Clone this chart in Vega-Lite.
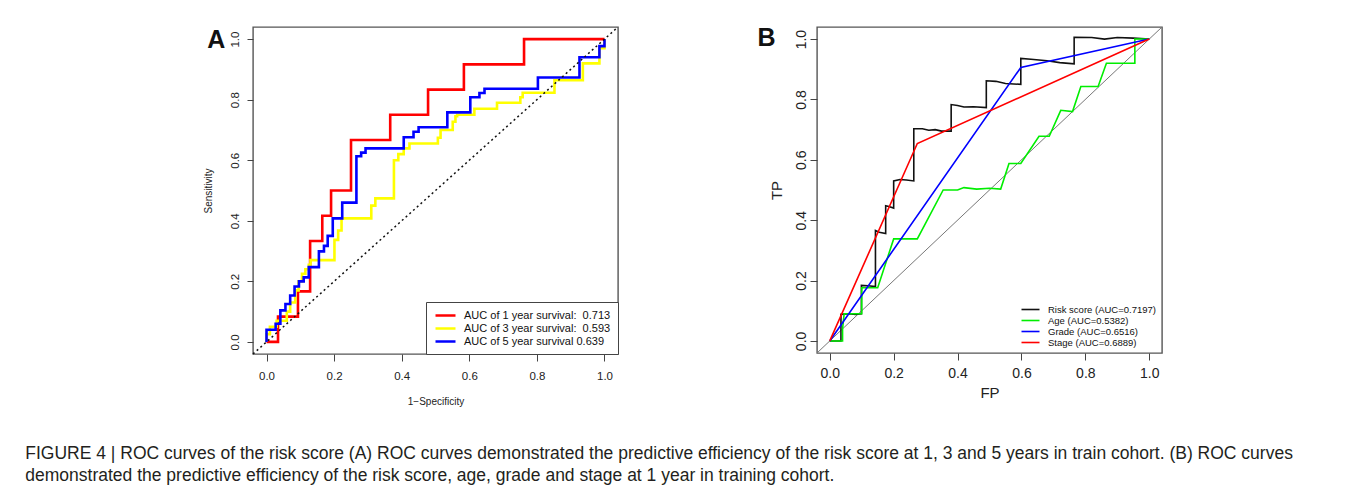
{
  "$schema": "https://vega.github.io/schema/vega-lite/v6.json",
  "background": "white",
  "padding": {"left": 25, "top": 23, "right": 5, "bottom": 5},
  "spacing": 134,
  "resolve": {"scale": {"color": "independent"}, "legend": {"color": "independent"}},
  "title": {
    "text": ["FIGURE 4 | ROC curves of the risk score (A) ROC curves demonstrated the predictive efficiency of the risk score at 1, 3 and 5 years in train cohort. (B) ROC curves", "demonstrated the predictive efficiency of the risk score, age, grade and stage at 1 year in training cohort."],
    "orient": "bottom", "anchor": "start", "frame": "bounds",
    "fontSize": 17.5, "fontWeight": "normal", "font": "Liberation Sans", "color": "#231f20",
    "lineHeight": 21.5, "offset": 38, "dx": -177
  },
  "config": {
    "font": "Liberation Sans",
    "view": {"stroke": "#555", "strokeWidth": 1.4}
  },
  "hconcat": [
    {
      "width": 365, "height": 327,
      "layer": [
        {
          "data": {"values": [
            {"c":"AUC of 1 year survival: \u00a00.713","i":0,"fp":0,"tp":0},
            {"c":"AUC of 1 year survival: \u00a00.713","i":1,"fp":0.034,"tp":0},
            {"c":"AUC of 1 year survival: \u00a00.713","i":2,"fp":0.034,"tp":0.0833},
            {"c":"AUC of 1 year survival: \u00a00.713","i":3,"fp":0.093,"tp":0.0833},
            {"c":"AUC of 1 year survival: \u00a00.713","i":4,"fp":0.093,"tp":0.1667},
            {"c":"AUC of 1 year survival: \u00a00.713","i":5,"fp":0.129,"tp":0.1667},
            {"c":"AUC of 1 year survival: \u00a00.713","i":6,"fp":0.129,"tp":0.3333},
            {"c":"AUC of 1 year survival: \u00a00.713","i":7,"fp":0.165,"tp":0.3333},
            {"c":"AUC of 1 year survival: \u00a00.713","i":8,"fp":0.165,"tp":0.4167},
            {"c":"AUC of 1 year survival: \u00a00.713","i":9,"fp":0.191,"tp":0.4167},
            {"c":"AUC of 1 year survival: \u00a00.713","i":10,"fp":0.191,"tp":0.5},
            {"c":"AUC of 1 year survival: \u00a00.713","i":11,"fp":0.25,"tp":0.5},
            {"c":"AUC of 1 year survival: \u00a00.713","i":12,"fp":0.25,"tp":0.6667},
            {"c":"AUC of 1 year survival: \u00a00.713","i":13,"fp":0.366,"tp":0.6667},
            {"c":"AUC of 1 year survival: \u00a00.713","i":14,"fp":0.366,"tp":0.75},
            {"c":"AUC of 1 year survival: \u00a00.713","i":15,"fp":0.478,"tp":0.75},
            {"c":"AUC of 1 year survival: \u00a00.713","i":16,"fp":0.478,"tp":0.8333},
            {"c":"AUC of 1 year survival: \u00a00.713","i":17,"fp":0.584,"tp":0.8333},
            {"c":"AUC of 1 year survival: \u00a00.713","i":18,"fp":0.584,"tp":0.9167},
            {"c":"AUC of 1 year survival: \u00a00.713","i":19,"fp":0.762,"tp":0.9167},
            {"c":"AUC of 1 year survival: \u00a00.713","i":20,"fp":0.762,"tp":1},
            {"c":"AUC of 1 year survival: \u00a00.713","i":21,"fp":1,"tp":1},

            {"c":"AUC of 3 year survival: \u00a00.593","i":0,"fp":0,"tp":0},
            {"c":"AUC of 3 year survival: \u00a00.593","i":1,"fp":0,"tp":0.025},
            {"c":"AUC of 3 year survival: \u00a00.593","i":2,"fp":0.01,"tp":0.025},
            {"c":"AUC of 3 year survival: \u00a00.593","i":3,"fp":0.01,"tp":0.05},
            {"c":"AUC of 3 year survival: \u00a00.593","i":4,"fp":0.03,"tp":0.05},
            {"c":"AUC of 3 year survival: \u00a00.593","i":5,"fp":0.03,"tp":0.07},
            {"c":"AUC of 3 year survival: \u00a00.593","i":6,"fp":0.06,"tp":0.07},
            {"c":"AUC of 3 year survival: \u00a00.593","i":7,"fp":0.06,"tp":0.1},
            {"c":"AUC of 3 year survival: \u00a00.593","i":8,"fp":0.07,"tp":0.1},
            {"c":"AUC of 3 year survival: \u00a00.593","i":9,"fp":0.07,"tp":0.13},
            {"c":"AUC of 3 year survival: \u00a00.593","i":10,"fp":0.085,"tp":0.13},
            {"c":"AUC of 3 year survival: \u00a00.593","i":11,"fp":0.085,"tp":0.17},
            {"c":"AUC of 3 year survival: \u00a00.593","i":12,"fp":0.095,"tp":0.17},
            {"c":"AUC of 3 year survival: \u00a00.593","i":13,"fp":0.095,"tp":0.2},
            {"c":"AUC of 3 year survival: \u00a00.593","i":14,"fp":0.105,"tp":0.2},
            {"c":"AUC of 3 year survival: \u00a00.593","i":15,"fp":0.105,"tp":0.225},
            {"c":"AUC of 3 year survival: \u00a00.593","i":16,"fp":0.115,"tp":0.225},
            {"c":"AUC of 3 year survival: \u00a00.593","i":17,"fp":0.115,"tp":0.24},
            {"c":"AUC of 3 year survival: \u00a00.593","i":18,"fp":0.125,"tp":0.24},
            {"c":"AUC of 3 year survival: \u00a00.593","i":19,"fp":0.125,"tp":0.255},
            {"c":"AUC of 3 year survival: \u00a00.593","i":20,"fp":0.13,"tp":0.255},
            {"c":"AUC of 3 year survival: \u00a00.593","i":21,"fp":0.13,"tp":0.27},
            {"c":"AUC of 3 year survival: \u00a00.593","i":22,"fp":0.201,"tp":0.27},
            {"c":"AUC of 3 year survival: \u00a00.593","i":23,"fp":0.201,"tp":0.337},
            {"c":"AUC of 3 year survival: \u00a00.593","i":24,"fp":0.212,"tp":0.337},
            {"c":"AUC of 3 year survival: \u00a00.593","i":25,"fp":0.212,"tp":0.368},
            {"c":"AUC of 3 year survival: \u00a00.593","i":26,"fp":0.222,"tp":0.368},
            {"c":"AUC of 3 year survival: \u00a00.593","i":27,"fp":0.222,"tp":0.408},
            {"c":"AUC of 3 year survival: \u00a00.593","i":28,"fp":0.31,"tp":0.408},
            {"c":"AUC of 3 year survival: \u00a00.593","i":29,"fp":0.31,"tp":0.45},
            {"c":"AUC of 3 year survival: \u00a00.593","i":30,"fp":0.322,"tp":0.45},
            {"c":"AUC of 3 year survival: \u00a00.593","i":31,"fp":0.322,"tp":0.474},
            {"c":"AUC of 3 year survival: \u00a00.593","i":32,"fp":0.377,"tp":0.474},
            {"c":"AUC of 3 year survival: \u00a00.593","i":33,"fp":0.377,"tp":0.6},
            {"c":"AUC of 3 year survival: \u00a00.593","i":34,"fp":0.39,"tp":0.6},
            {"c":"AUC of 3 year survival: \u00a00.593","i":35,"fp":0.39,"tp":0.62},
            {"c":"AUC of 3 year survival: \u00a00.593","i":36,"fp":0.406,"tp":0.62},
            {"c":"AUC of 3 year survival: \u00a00.593","i":37,"fp":0.406,"tp":0.639},
            {"c":"AUC of 3 year survival: \u00a00.593","i":38,"fp":0.423,"tp":0.639},
            {"c":"AUC of 3 year survival: \u00a00.593","i":39,"fp":0.423,"tp":0.655},
            {"c":"AUC of 3 year survival: \u00a00.593","i":40,"fp":0.507,"tp":0.655},
            {"c":"AUC of 3 year survival: \u00a00.593","i":41,"fp":0.507,"tp":0.674},
            {"c":"AUC of 3 year survival: \u00a00.593","i":42,"fp":0.515,"tp":0.674},
            {"c":"AUC of 3 year survival: \u00a00.593","i":43,"fp":0.515,"tp":0.7},
            {"c":"AUC of 3 year survival: \u00a00.593","i":44,"fp":0.551,"tp":0.7},
            {"c":"AUC of 3 year survival: \u00a00.593","i":45,"fp":0.551,"tp":0.727},
            {"c":"AUC of 3 year survival: \u00a00.593","i":46,"fp":0.559,"tp":0.727},
            {"c":"AUC of 3 year survival: \u00a00.593","i":47,"fp":0.559,"tp":0.745},
            {"c":"AUC of 3 year survival: \u00a00.593","i":48,"fp":0.564,"tp":0.745},
            {"c":"AUC of 3 year survival: \u00a00.593","i":49,"fp":0.564,"tp":0.75},
            {"c":"AUC of 3 year survival: \u00a00.593","i":50,"fp":0.615,"tp":0.75},
            {"c":"AUC of 3 year survival: \u00a00.593","i":51,"fp":0.615,"tp":0.77},
            {"c":"AUC of 3 year survival: \u00a00.593","i":52,"fp":0.682,"tp":0.77},
            {"c":"AUC of 3 year survival: \u00a00.593","i":53,"fp":0.682,"tp":0.79},
            {"c":"AUC of 3 year survival: \u00a00.593","i":54,"fp":0.751,"tp":0.79},
            {"c":"AUC of 3 year survival: \u00a00.593","i":55,"fp":0.751,"tp":0.808},
            {"c":"AUC of 3 year survival: \u00a00.593","i":56,"fp":0.758,"tp":0.808},
            {"c":"AUC of 3 year survival: \u00a00.593","i":57,"fp":0.758,"tp":0.823},
            {"c":"AUC of 3 year survival: \u00a00.593","i":58,"fp":0.852,"tp":0.823},
            {"c":"AUC of 3 year survival: \u00a00.593","i":59,"fp":0.852,"tp":0.864},
            {"c":"AUC of 3 year survival: \u00a00.593","i":60,"fp":0.936,"tp":0.864},
            {"c":"AUC of 3 year survival: \u00a00.593","i":61,"fp":0.936,"tp":0.92},
            {"c":"AUC of 3 year survival: \u00a00.593","i":62,"fp":0.985,"tp":0.92},
            {"c":"AUC of 3 year survival: \u00a00.593","i":63,"fp":0.985,"tp":0.97},
            {"c":"AUC of 3 year survival: \u00a00.593","i":64,"fp":1,"tp":0.97},
            {"c":"AUC of 3 year survival: \u00a00.593","i":65,"fp":1,"tp":1},

            {"c":"AUC of 5 year survival 0.639","i":0,"fp":0,"tp":0},
            {"c":"AUC of 5 year survival 0.639","i":1,"fp":0,"tp":0.04},
            {"c":"AUC of 5 year survival 0.639","i":2,"fp":0.027,"tp":0.04},
            {"c":"AUC of 5 year survival 0.639","i":3,"fp":0.027,"tp":0.06},
            {"c":"AUC of 5 year survival 0.639","i":4,"fp":0.041,"tp":0.06},
            {"c":"AUC of 5 year survival 0.639","i":5,"fp":0.041,"tp":0.104},
            {"c":"AUC of 5 year survival 0.639","i":6,"fp":0.056,"tp":0.104},
            {"c":"AUC of 5 year survival 0.639","i":7,"fp":0.056,"tp":0.125},
            {"c":"AUC of 5 year survival 0.639","i":8,"fp":0.07,"tp":0.125},
            {"c":"AUC of 5 year survival 0.639","i":9,"fp":0.07,"tp":0.153},
            {"c":"AUC of 5 year survival 0.639","i":10,"fp":0.083,"tp":0.153},
            {"c":"AUC of 5 year survival 0.639","i":11,"fp":0.083,"tp":0.183},
            {"c":"AUC of 5 year survival 0.639","i":12,"fp":0.096,"tp":0.183},
            {"c":"AUC of 5 year survival 0.639","i":13,"fp":0.096,"tp":0.2},
            {"c":"AUC of 5 year survival 0.639","i":14,"fp":0.11,"tp":0.2},
            {"c":"AUC of 5 year survival 0.639","i":15,"fp":0.11,"tp":0.213},
            {"c":"AUC of 5 year survival 0.639","i":16,"fp":0.125,"tp":0.213},
            {"c":"AUC of 5 year survival 0.639","i":17,"fp":0.125,"tp":0.247},
            {"c":"AUC of 5 year survival 0.639","i":18,"fp":0.155,"tp":0.247},
            {"c":"AUC of 5 year survival 0.639","i":19,"fp":0.155,"tp":0.299},
            {"c":"AUC of 5 year survival 0.639","i":20,"fp":0.17,"tp":0.299},
            {"c":"AUC of 5 year survival 0.639","i":21,"fp":0.17,"tp":0.317},
            {"c":"AUC of 5 year survival 0.639","i":22,"fp":0.181,"tp":0.317},
            {"c":"AUC of 5 year survival 0.639","i":23,"fp":0.181,"tp":0.35},
            {"c":"AUC of 5 year survival 0.639","i":24,"fp":0.196,"tp":0.35},
            {"c":"AUC of 5 year survival 0.639","i":25,"fp":0.196,"tp":0.408},
            {"c":"AUC of 5 year survival 0.639","i":26,"fp":0.224,"tp":0.408},
            {"c":"AUC of 5 year survival 0.639","i":27,"fp":0.224,"tp":0.46},
            {"c":"AUC of 5 year survival 0.639","i":28,"fp":0.266,"tp":0.46},
            {"c":"AUC of 5 year survival 0.639","i":29,"fp":0.266,"tp":0.613},
            {"c":"AUC of 5 year survival 0.639","i":30,"fp":0.28,"tp":0.613},
            {"c":"AUC of 5 year survival 0.639","i":31,"fp":0.28,"tp":0.625},
            {"c":"AUC of 5 year survival 0.639","i":32,"fp":0.293,"tp":0.625},
            {"c":"AUC of 5 year survival 0.639","i":33,"fp":0.293,"tp":0.639},
            {"c":"AUC of 5 year survival 0.639","i":34,"fp":0.406,"tp":0.639},
            {"c":"AUC of 5 year survival 0.639","i":35,"fp":0.406,"tp":0.676},
            {"c":"AUC of 5 year survival 0.639","i":36,"fp":0.435,"tp":0.676},
            {"c":"AUC of 5 year survival 0.639","i":37,"fp":0.435,"tp":0.694},
            {"c":"AUC of 5 year survival 0.639","i":38,"fp":0.45,"tp":0.694},
            {"c":"AUC of 5 year survival 0.639","i":39,"fp":0.45,"tp":0.709},
            {"c":"AUC of 5 year survival 0.639","i":40,"fp":0.535,"tp":0.709},
            {"c":"AUC of 5 year survival 0.639","i":41,"fp":0.535,"tp":0.758},
            {"c":"AUC of 5 year survival 0.639","i":42,"fp":0.603,"tp":0.758},
            {"c":"AUC of 5 year survival 0.639","i":43,"fp":0.603,"tp":0.808},
            {"c":"AUC of 5 year survival 0.639","i":44,"fp":0.63,"tp":0.808},
            {"c":"AUC of 5 year survival 0.639","i":45,"fp":0.63,"tp":0.822},
            {"c":"AUC of 5 year survival 0.639","i":46,"fp":0.645,"tp":0.822},
            {"c":"AUC of 5 year survival 0.639","i":47,"fp":0.645,"tp":0.836},
            {"c":"AUC of 5 year survival 0.639","i":48,"fp":0.803,"tp":0.836},
            {"c":"AUC of 5 year survival 0.639","i":49,"fp":0.803,"tp":0.873},
            {"c":"AUC of 5 year survival 0.639","i":50,"fp":0.926,"tp":0.873},
            {"c":"AUC of 5 year survival 0.639","i":51,"fp":0.926,"tp":0.94},
            {"c":"AUC of 5 year survival 0.639","i":52,"fp":0.985,"tp":0.94},
            {"c":"AUC of 5 year survival 0.639","i":53,"fp":0.985,"tp":0.977},
            {"c":"AUC of 5 year survival 0.639","i":54,"fp":1,"tp":0.977},
            {"c":"AUC of 5 year survival 0.639","i":55,"fp":1,"tp":1}
          ]},
          "mark": {"type": "line", "strokeWidth": 2.6},
          "encoding": {
            "x": {"field": "fp", "type": "quantitative", "title": "1−Specificity",
              "scale": {"domain": [-0.04, 1.04], "nice": false, "zero": false},
              "axis": {"values": [0, 0.2, 0.4, 0.6, 0.8, 1], "format": ".1f", "domain": false, "grid": false,
                "tickSize": 7, "tickColor": "#444", "labelFontSize": 11.5, "labelColor": "#222", "labelPadding": 9,
                "labelFlush": false, "titleFontSize": 10, "titleFontWeight": "normal", "titleColor": "#222", "titlePadding": 15}},
            "y": {"field": "tp", "type": "quantitative", "title": "Sensitivity",
              "scale": {"domain": [-0.04, 1.04], "nice": false, "zero": false},
              "axis": {"values": [0, 0.2, 0.4, 0.6, 0.8, 1], "format": ".1f", "domain": false, "grid": false,
                "tickSize": 6, "tickColor": "#444", "labelFontSize": 11.5, "labelColor": "#222", "labelPadding": 7,
                "labelAngle": 270, "labelAlign": "center", "labelBaseline": "bottom", "labelFlush": false,
                "titleFontSize": 10, "titleFontWeight": "normal", "titleColor": "#222", "titlePadding": 16}},
            "order": {"field": "i", "type": "quantitative"},
            "color": {"field": "c", "type": "nominal",
              "scale": {"domain": ["AUC of 1 year survival: \u00a00.713", "AUC of 3 year survival: \u00a00.593", "AUC of 5 year survival 0.639"],
                        "range": ["#ff0000", "#ffff00", "#0000ff"]},
              "legend": {"title": null, "orient": "bottom-right", "offset": 0, "strokeColor": "#444", "fillColor": "white",
                "padding": 7, "symbolType": "M-2,0H2", "symbolSize": 100, "symbolStrokeWidth": 2.5,
                "labelFontSize": 11, "labelColor": "#111", "rowPadding": 1, "labelOffset": 12, "labelLimit": 400, "cornerRadius": 0, "symbolOffset": 6}}
          }
        },
        {
          "data": {"values": [{"fp": -0.04, "tp": -0.04}, {"fp": 1.04, "tp": 1.04}]},
          "mark": {"type": "line", "color": "#111", "strokeWidth": 1.5, "strokeDash": [2, 3]},
          "encoding": {
            "x": {"field": "fp", "type": "quantitative", "title": "1−Specificity"},
            "y": {"field": "tp", "type": "quantitative", "title": "Sensitivity"}
          }
        },
        {
          "data": {"values": [{"fp": -0.149, "tp": 0.997, "t": "A"}]},
          "mark": {"type": "text", "fontSize": 25, "fontWeight": "bold", "align": "center", "baseline": "middle", "color": "#111"},
          "encoding": {
            "x": {"field": "fp", "type": "quantitative", "title": "1−Specificity"},
            "y": {"field": "tp", "type": "quantitative", "title": "Sensitivity"},
            "text": {"field": "t"}
          }
        }
      ]
    },
    {
      "width": 345, "height": 326,
      "layer": [
        {
          "data": {"values": [{"fp": -0.04, "tp": -0.04}, {"fp": 1.04, "tp": 1.04}]},
          "mark": {"type": "line", "color": "#777", "strokeWidth": 1},
          "encoding": {
            "x": {"field": "fp", "type": "quantitative", "title": "FP",
              "scale": {"domain": [-0.04, 1.04], "nice": false, "zero": false},
              "axis": {"values": [0, 0.2, 0.4, 0.6, 0.8, 1], "format": ".1f", "domain": false, "grid": false,
                "tickSize": 7, "tickColor": "#444", "labelFontSize": 14, "labelColor": "#222", "labelPadding": 6,
                "labelFlush": false, "titleFontSize": 15, "titleFontWeight": "normal", "titleColor": "#222", "titlePadding": 5}},
            "y": {"field": "tp", "type": "quantitative", "title": "TP",
              "scale": {"domain": [-0.04, 1.04], "nice": false, "zero": false},
              "axis": {"values": [0, 0.2, 0.4, 0.6, 0.8, 1], "format": ".1f", "domain": false, "grid": false,
                "tickSize": 7, "tickColor": "#444", "labelFontSize": 14, "labelColor": "#222", "labelPadding": 2,
                "labelAngle": 270, "labelAlign": "center", "labelBaseline": "bottom", "labelFlush": false,
                "titleFontSize": 15, "titleFontWeight": "normal", "titleColor": "#222", "titlePadding": 10}}
          }
        },
        {
          "data": {"values": [
            {"c":"Risk score (AUC=0.7197)","i":0,"fp":0,"tp":0},
            {"c":"Risk score (AUC=0.7197)","i":1,"fp":0.035,"tp":0},
            {"c":"Risk score (AUC=0.7197)","i":2,"fp":0.035,"tp":0.088},
            {"c":"Risk score (AUC=0.7197)","i":3,"fp":0.06,"tp":0.09},
            {"c":"Risk score (AUC=0.7197)","i":4,"fp":0.08,"tp":0.088},
            {"c":"Risk score (AUC=0.7197)","i":5,"fp":0.099,"tp":0.09},
            {"c":"Risk score (AUC=0.7197)","i":6,"fp":0.099,"tp":0.184},
            {"c":"Risk score (AUC=0.7197)","i":7,"fp":0.12,"tp":0.183},
            {"c":"Risk score (AUC=0.7197)","i":8,"fp":0.143,"tp":0.18},
            {"c":"Risk score (AUC=0.7197)","i":9,"fp":0.143,"tp":0.366},
            {"c":"Risk score (AUC=0.7197)","i":10,"fp":0.155,"tp":0.36},
            {"c":"Risk score (AUC=0.7197)","i":11,"fp":0.175,"tp":0.356},
            {"c":"Risk score (AUC=0.7197)","i":12,"fp":0.175,"tp":0.448},
            {"c":"Risk score (AUC=0.7197)","i":13,"fp":0.185,"tp":0.445},
            {"c":"Risk score (AUC=0.7197)","i":14,"fp":0.2,"tp":0.44},
            {"c":"Risk score (AUC=0.7197)","i":15,"fp":0.2,"tp":0.53},
            {"c":"Risk score (AUC=0.7197)","i":16,"fp":0.22,"tp":0.535},
            {"c":"Risk score (AUC=0.7197)","i":17,"fp":0.24,"tp":0.533},
            {"c":"Risk score (AUC=0.7197)","i":18,"fp":0.263,"tp":0.53},
            {"c":"Risk score (AUC=0.7197)","i":19,"fp":0.263,"tp":0.703},
            {"c":"Risk score (AUC=0.7197)","i":20,"fp":0.29,"tp":0.703},
            {"c":"Risk score (AUC=0.7197)","i":21,"fp":0.31,"tp":0.698},
            {"c":"Risk score (AUC=0.7197)","i":22,"fp":0.33,"tp":0.7},
            {"c":"Risk score (AUC=0.7197)","i":23,"fp":0.35,"tp":0.695},
            {"c":"Risk score (AUC=0.7197)","i":24,"fp":0.38,"tp":0.695},
            {"c":"Risk score (AUC=0.7197)","i":25,"fp":0.38,"tp":0.783},
            {"c":"Risk score (AUC=0.7197)","i":26,"fp":0.4,"tp":0.78},
            {"c":"Risk score (AUC=0.7197)","i":27,"fp":0.42,"tp":0.775},
            {"c":"Risk score (AUC=0.7197)","i":28,"fp":0.45,"tp":0.776},
            {"c":"Risk score (AUC=0.7197)","i":29,"fp":0.49,"tp":0.773},
            {"c":"Risk score (AUC=0.7197)","i":30,"fp":0.49,"tp":0.862},
            {"c":"Risk score (AUC=0.7197)","i":31,"fp":0.52,"tp":0.86},
            {"c":"Risk score (AUC=0.7197)","i":32,"fp":0.55,"tp":0.853},
            {"c":"Risk score (AUC=0.7197)","i":33,"fp":0.598,"tp":0.85},
            {"c":"Risk score (AUC=0.7197)","i":34,"fp":0.598,"tp":0.936},
            {"c":"Risk score (AUC=0.7197)","i":35,"fp":0.63,"tp":0.933},
            {"c":"Risk score (AUC=0.7197)","i":36,"fp":0.68,"tp":0.928},
            {"c":"Risk score (AUC=0.7197)","i":37,"fp":0.72,"tp":0.922},
            {"c":"Risk score (AUC=0.7197)","i":38,"fp":0.765,"tp":0.918},
            {"c":"Risk score (AUC=0.7197)","i":39,"fp":0.765,"tp":1.006},
            {"c":"Risk score (AUC=0.7197)","i":40,"fp":0.82,"tp":1.005},
            {"c":"Risk score (AUC=0.7197)","i":41,"fp":0.86,"tp":1.0},
            {"c":"Risk score (AUC=0.7197)","i":42,"fp":0.9,"tp":1.005},
            {"c":"Risk score (AUC=0.7197)","i":43,"fp":0.95,"tp":1.003},
            {"c":"Risk score (AUC=0.7197)","i":44,"fp":1,"tp":1},

            {"c":"Age (AUC=0.5382)","i":0,"fp":0,"tp":0},
            {"c":"Age (AUC=0.5382)","i":1,"fp":0.04,"tp":0},
            {"c":"Age (AUC=0.5382)","i":2,"fp":0.04,"tp":0.04},
            {"c":"Age (AUC=0.5382)","i":3,"fp":0.045,"tp":0.09},
            {"c":"Age (AUC=0.5382)","i":4,"fp":0.1,"tp":0.09},
            {"c":"Age (AUC=0.5382)","i":5,"fp":0.1,"tp":0.176},
            {"c":"Age (AUC=0.5382)","i":6,"fp":0.15,"tp":0.176},
            {"c":"Age (AUC=0.5382)","i":7,"fp":0.2,"tp":0.338},
            {"c":"Age (AUC=0.5382)","i":8,"fp":0.274,"tp":0.338},
            {"c":"Age (AUC=0.5382)","i":9,"fp":0.355,"tp":0.5},
            {"c":"Age (AUC=0.5382)","i":10,"fp":0.4,"tp":0.5},
            {"c":"Age (AUC=0.5382)","i":11,"fp":0.42,"tp":0.508},
            {"c":"Age (AUC=0.5382)","i":12,"fp":0.46,"tp":0.503},
            {"c":"Age (AUC=0.5382)","i":13,"fp":0.5,"tp":0.506},
            {"c":"Age (AUC=0.5382)","i":14,"fp":0.535,"tp":0.503},
            {"c":"Age (AUC=0.5382)","i":15,"fp":0.561,"tp":0.588},
            {"c":"Age (AUC=0.5382)","i":16,"fp":0.598,"tp":0.588},
            {"c":"Age (AUC=0.5382)","i":17,"fp":0.655,"tp":0.678},
            {"c":"Age (AUC=0.5382)","i":18,"fp":0.687,"tp":0.678},
            {"c":"Age (AUC=0.5382)","i":19,"fp":0.723,"tp":0.764},
            {"c":"Age (AUC=0.5382)","i":20,"fp":0.76,"tp":0.76},
            {"c":"Age (AUC=0.5382)","i":21,"fp":0.786,"tp":0.843},
            {"c":"Age (AUC=0.5382)","i":22,"fp":0.84,"tp":0.843},
            {"c":"Age (AUC=0.5382)","i":23,"fp":0.866,"tp":0.92},
            {"c":"Age (AUC=0.5382)","i":24,"fp":0.955,"tp":0.92},
            {"c":"Age (AUC=0.5382)","i":25,"fp":0.955,"tp":1},
            {"c":"Age (AUC=0.5382)","i":26,"fp":1,"tp":1},

            {"c":"Grade (AUC=0.6516)","i":0,"fp":0,"tp":0},
            {"c":"Grade (AUC=0.6516)","i":1,"fp":0.598,"tp":0.906},
            {"c":"Grade (AUC=0.6516)","i":2,"fp":1,"tp":1},

            {"c":"Stage (AUC=0.6889)","i":0,"fp":0,"tp":0},
            {"c":"Stage (AUC=0.6889)","i":1,"fp":0.274,"tp":0.654},
            {"c":"Stage (AUC=0.6889)","i":2,"fp":1,"tp":1}
          ]},
          "mark": {"type": "line", "strokeWidth": 1.6},
          "encoding": {
            "x": {"field": "fp", "type": "quantitative", "title": "FP"},
            "y": {"field": "tp", "type": "quantitative", "title": "TP"},
            "order": {"field": "i", "type": "quantitative"},
            "color": {"field": "c", "type": "nominal",
              "scale": {"domain": ["Risk score (AUC=0.7197)", "Age (AUC=0.5382)", "Grade (AUC=0.6516)", "Stage (AUC=0.6889)"],
                        "range": ["#111111", "#00ee00", "#0000ff", "#ff0000"]},
              "legend": {"title": null, "orient": "bottom-right", "offset": 3, "padding": 3,
                "symbolType": "M-2,0H2", "symbolSize": 81, "symbolStrokeWidth": 1.6,
                "labelFontSize": 9.5, "labelColor": "#111", "rowPadding": 1, "labelOffset": 12, "labelLimit": 400, "symbolOffset": 5}}
          }
        },
        {
          "data": {"values": [{"fp": -0.198, "tp": 1.003, "t": "B"}]},
          "mark": {"type": "text", "fontSize": 25, "fontWeight": "bold", "align": "center", "baseline": "middle", "color": "#111"},
          "encoding": {
            "x": {"field": "fp", "type": "quantitative", "title": "FP"},
            "y": {"field": "tp", "type": "quantitative", "title": "TP"},
            "text": {"field": "t"}
          }
        }
      ]
    }
  ]
}
